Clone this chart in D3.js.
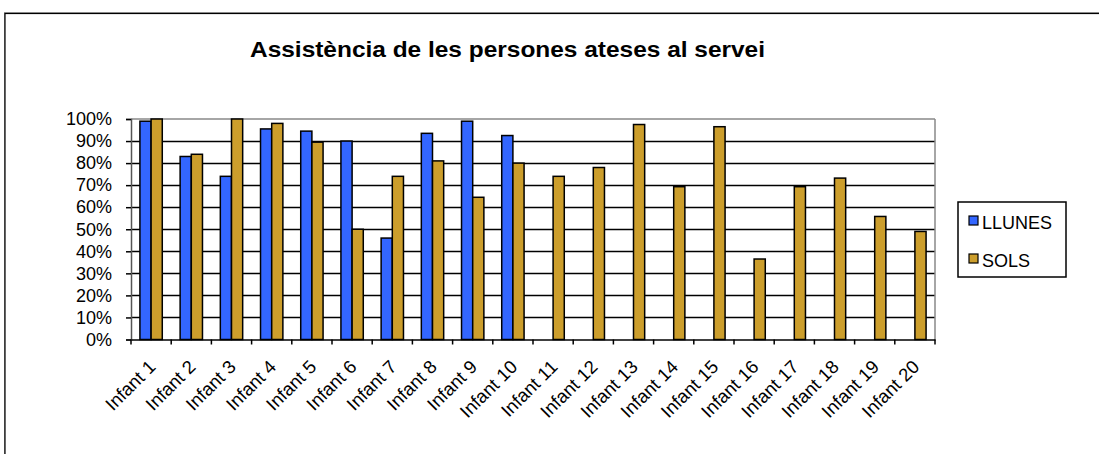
<!DOCTYPE html>
<html>
<head>
<meta charset="utf-8">
<script src="https://cdn.jsdelivr.net/npm/d3@7"></script>
<style>
html,body{margin:0;padding:0;background:#fff;}
svg{display:block;}
text{font-family:"Liberation Sans",Arial,sans-serif;fill:#000;}
</style>
</head>
<body>
<svg id="chart" width="1099" height="454"></svg>
<script>
const categories = ["Infant 1","Infant 2","Infant 3","Infant 4","Infant 5","Infant 6","Infant 7","Infant 8","Infant 9","Infant 10","Infant 11","Infant 12","Infant 13","Infant 14","Infant 15","Infant 16","Infant 17","Infant 18","Infant 19","Infant 20"];
const llunes = [0.99,0.83,0.74,0.955,0.945,0.90,0.46,0.935,0.99,0.925,null,null,null,null,null,null,null,null,null,null];
const sols = [1.00,0.84,1.00,0.98,0.895,0.50,0.74,0.81,0.645,0.80,0.74,0.78,0.975,0.693,0.965,0.365,0.693,0.732,0.558,0.49];
const seriesNames = ["LLUNES","SOLS"];
const seriesColors = ["#3366FF","#CC9E2C"];
const yTicks = [0,0.1,0.2,0.3,0.4,0.5,0.6,0.7,0.8,0.9,1.0];
const title = "Assistència de les persones ateses al servei";

const svg = d3.select("#chart");
// outer frame
svg.append("rect").attr("x",4.5).attr("y",12.5).attr("width",1110).attr("height",460)
  .attr("fill","none").attr("stroke","#999").attr("stroke-width",1);
svg.append("rect").attr("x",5).attr("y",13.5).attr("width",1110).attr("height",460)
  .attr("fill","none").attr("stroke","#000").attr("stroke-width",1.2);

const L=131, R=935, T=119, B=339.5;
const x = d3.scaleBand().domain(categories).range([L,R]).paddingInner(0).paddingOuter(0);
const bw = x.bandwidth();
const inner = d3.scaleBand().domain(seriesNames).range([bw*0.222, bw*0.778]).padding(0);
const y = d3.scaleLinear().domain([0,1]).range([B,T]);

// gridlines
svg.append("g").selectAll("line").data(yTicks.filter(d=>d>0 && d<1)).join("line")
  .attr("x1",L).attr("x2",R).attr("y1",d=>Math.round(y(d))+0.5).attr("y2",d=>Math.round(y(d))+0.5)
  .attr("stroke","#000").attr("stroke-width",1.6);
// top & right border gray
svg.append("line").attr("x1",L).attr("x2",R).attr("y1",T).attr("y2",T).attr("stroke","#888").attr("stroke-width",1.5);
svg.append("line").attr("x1",R).attr("x2",R).attr("y1",T).attr("y2",B).attr("stroke","#888").attr("stroke-width",1.5);

// bars
const data = [llunes, sols];
data.forEach((vals,si)=>{
  svg.append("g").selectAll("rect").data(categories.map((c,i)=>({c,v:vals[i]})).filter(d=>d.v!=null)).join("rect")
    .attr("x",d=>x(d.c)+inner(seriesNames[si]))
    .attr("y",d=>y(d.v))
    .attr("width",inner.bandwidth())
    .attr("height",d=>B-y(d.v))
    .attr("fill",seriesColors[si]).attr("stroke","#000").attr("stroke-width",1.5);
});

// y axis
const yAxis = d3.axisLeft(y).tickValues(yTicks).tickFormat(d3.format(".0%")).tickSize(5).tickPadding(14);
const yg = svg.append("g").attr("transform",`translate(${L},0)`).call(yAxis);
yg.select(".domain").attr("stroke","#555").attr("stroke-width",1.5);
yg.selectAll(".tick line").attr("stroke","#000").attr("stroke-width",1.5);
yg.selectAll("text").attr("font-size",18).attr("font-family","Liberation Sans, Arial, sans-serif").attr("fill","#000");

// x axis
const xAxis = d3.axisBottom(x).tickSize(0).tickFormat("");
const xg = svg.append("g").attr("transform",`translate(0,${B})`).call(xAxis);
xg.select(".domain").attr("stroke","#000").attr("stroke-width",1.5);
// boundary ticks
svg.append("g").selectAll("line").data(d3.range(categories.length+1)).join("line")
  .attr("x1",i=>L+i*bw).attr("x2",i=>L+i*bw).attr("y1",B).attr("y2",B+5)
  .attr("stroke","#000").attr("stroke-width",1.5);
// labels
svg.append("g").selectAll("text").data(categories).join("text")
  .attr("transform",d=>`translate(${x(d)+bw/2+1},${B+24}) rotate(-45)`)
  .attr("text-anchor","end").attr("font-size",18.5).attr("dy","0.35em")
  .text(d=>d);

// title
svg.append("text").attr("x",507.5).attr("y",57).attr("text-anchor","middle")
  .attr("font-size",22).attr("font-weight","bold")
  .attr("textLength",515).attr("lengthAdjust","spacingAndGlyphs").text(title);

// legend
const lg = svg.append("g");
lg.append("rect").attr("x",958).attr("y",202).attr("width",108).attr("height",75)
  .attr("fill","#fff").attr("stroke","#000").attr("stroke-width",1.5);
seriesNames.forEach((n,i)=>{
  const yy = 216 + i*38;
  lg.append("rect").attr("x",969).attr("y",yy).attr("width",9).attr("height",9)
    .attr("fill",seriesColors[i]).attr("stroke","#000").attr("stroke-width",1.2);
  lg.append("text").attr("x",982).attr("y",yy+13).attr("font-size",18).text(n);
});
</script>
</body>
</html>
